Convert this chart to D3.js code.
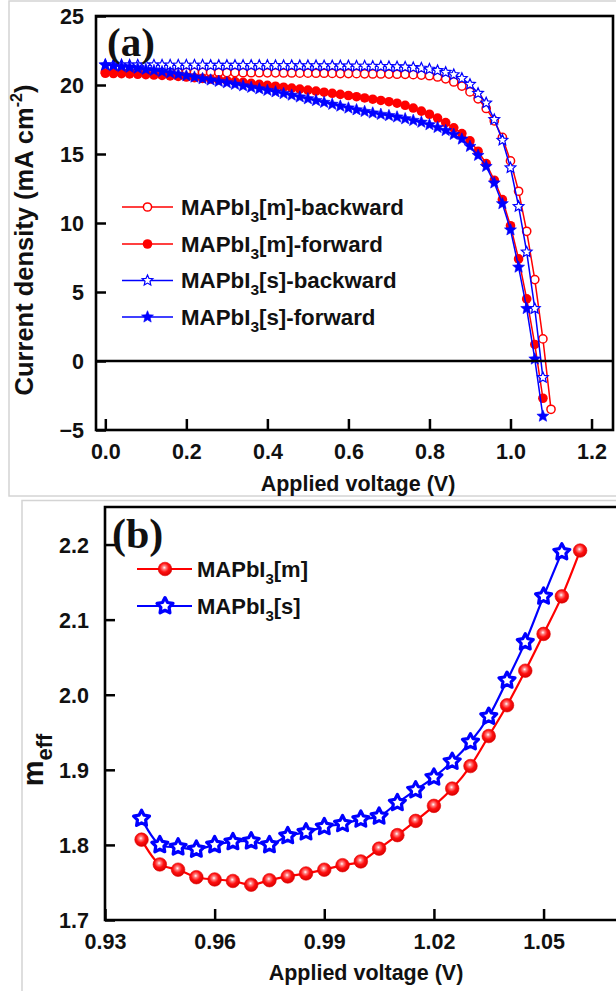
<!DOCTYPE html>
<html>
<head>
<meta charset="utf-8">
<script src="https://cdn.jsdelivr.net/npm/d3@7/dist/d3.min.js"></script>
<style>
  html, body { margin: 0; padding: 0; background: #fff; }
  svg { display: block; }
  text { font-family: "Liberation Sans", Arial, sans-serif; font-weight: bold; fill: #111; }
  .panel-tag { font-family: "Liberation Serif", "Times New Roman", serif; font-weight: bold; }
</style>
</head>
<body>
<svg id="fig" width="616" height="991"></svg>
<script>
// ---------- Panel (a): J–V scans ----------
const scanVoltage = [0.00,0.02,0.04,0.06,0.08,0.10,0.12,0.14,0.16,0.18,0.20,0.22,0.24,0.26,0.28,0.30,0.32,0.34,0.36,0.38,
  0.40,0.42,0.44,0.46,0.48,0.50,0.52,0.54,0.56,0.58,0.60,0.62,0.64,0.66,0.68,0.70,0.72,0.74,0.76,0.78,
  0.80,0.82,0.84,0.86,0.88,0.90,0.92,0.94,0.96,0.98,1.00,1.02,1.04,1.06,1.08,1.10];

const jMBackward = [20.95,20.95,20.94,20.94,20.94,20.93,20.93,20.93,20.92,20.92,20.92,20.91,20.91,20.91,20.90,20.90,20.90,20.89,20.89,20.89,
  20.88,20.88,20.87,20.87,20.86,20.86,20.85,20.85,20.84,20.83,20.83,20.82,20.81,20.80,20.80,20.79,20.78,20.77,20.75,20.72,
  20.67,20.58,20.45,20.22,19.92,19.50,19.00,18.30,17.40,16.20,14.50,12.30,9.40,5.90,1.60,-3.50];
const jMForward = [20.85,20.83,20.82,20.80,20.78,20.75,20.72,20.69,20.66,20.62,20.58,20.53,20.48,20.43,20.37,20.31,20.25,20.19,20.12,20.05,
  19.98,19.91,19.84,19.77,19.70,19.63,19.56,19.48,19.40,19.32,19.24,19.15,19.06,18.97,18.88,18.79,18.68,18.53,18.33,18.11,
  17.88,17.60,17.28,16.90,16.48,15.95,15.20,14.30,13.10,11.70,9.80,7.40,4.50,1.20,-2.70];
const jSBackward = [21.46,21.46,21.46,21.45,21.45,21.45,21.45,21.45,21.44,21.44,21.44,21.44,21.44,21.43,21.43,21.43,21.43,21.42,21.42,21.42,
  21.42,21.41,21.41,21.41,21.40,21.40,21.40,21.39,21.39,21.38,21.38,21.37,21.37,21.36,21.35,21.34,21.32,21.30,21.27,21.22,
  21.15,21.05,20.92,20.75,20.48,20.05,19.40,18.70,17.50,16.00,14.00,11.20,7.90,3.80,-1.20];
const jSForward = [21.45,21.40,21.34,21.28,21.21,21.13,21.05,20.97,20.88,20.78,20.67,20.57,20.46,20.36,20.26,20.16,20.05,19.94,19.83,19.72,
  19.61,19.50,19.38,19.26,19.13,19.00,18.87,18.74,18.60,18.47,18.33,18.20,18.08,17.97,17.87,17.78,17.68,17.55,17.43,17.30,
  17.12,16.92,16.70,16.42,16.08,15.55,14.90,14.10,12.90,11.40,9.50,6.80,3.80,0.14,-4.00];

const aXTicks = [0.0, 0.2, 0.4, 0.6, 0.8, 1.0, 1.2];
const aYTicks = [-5, 0, 5, 10, 15, 20, 25];
const aSeriesNames = ["MAPbI|3|[m]-backward", "MAPbI|3|[m]-forward", "MAPbI|3|[s]-backward", "MAPbI|3|[s]-forward"];

// ---------- Panel (b): effective ideality factor ----------
const meffVoltage = [0.940,0.945,0.950,0.955,0.960,0.965,0.970,0.975,0.980,0.985,0.990,0.995,1.000,
  1.005,1.010,1.015,1.020,1.025,1.030,1.035,1.040,1.045,1.050,1.055,1.060];
const meffM = [1.807,1.774,1.767,1.757,1.754,1.752,1.747,1.753,1.758,1.762,1.767,1.773,1.778,
  1.795,1.813,1.832,1.852,1.875,1.905,1.945,1.986,2.032,2.081,2.131,2.192];
const meffS = [1.835,1.800,1.797,1.794,1.800,1.804,1.805,1.800,1.812,1.817,1.824,1.828,1.834,
  1.838,1.856,1.873,1.890,1.911,1.937,1.971,2.019,2.070,2.131,2.190];

const bXTicks = [0.93, 0.96, 0.99, 1.02, 1.05];
const bYTicks = [1.7, 1.8, 1.9, 2.0, 2.1, 2.2];
const bSeriesNames = ["MAPbI|3|[m]", "MAPbI|3|[s]"];

const RED = "#ff0000", BLUE = "#0000ff";

const svg = d3.select("#fig");

// star outline path centred at the origin
function starPath(rOuter, rInner) {
  const pts = [];
  for (let i = 0; i < 10; i++) {
    const r = i % 2 === 0 ? rOuter : rInner;
    const a = -Math.PI / 2 + i * Math.PI / 5;
    pts.push([r * Math.cos(a), r * Math.sin(a)]);
  }
  return d3.line()(pts) + "Z";
}

// label text with a subscript part:  "pre|sub|post"
function subText(sel, label, size, subSize, shift) {
  const [pre, sub, post] = label.split("|");
  sel.append("tspan").text(pre);
  sel.append("tspan").attr("font-size", subSize).attr("dy", shift).text(sub);
  sel.append("tspan").attr("dy", -shift).text(post);
  sel.attr("font-size", size);
}

// sphere-like gradient for the circle markers in panel (b)
const defs = svg.append("defs");
const grad = defs.append("radialGradient").attr("id", "ball").attr("cx", "45%").attr("cy", "40%").attr("r", "60%");
grad.append("stop").attr("offset", "0%").attr("stop-color", "#ffffff");
grad.append("stop").attr("offset", "22%").attr("stop-color", "#ff8080");
grad.append("stop").attr("offset", "55%").attr("stop-color", "#ff1010");
grad.append("stop").attr("offset", "100%").attr("stop-color", "#d80000");

// light outlines of the two figure boxes
svg.append("rect").attr("x", 9).attr("y", 1).attr("width", 620).attr("height", 495)
  .attr("fill", "none").attr("stroke", "#d4d4d4").attr("stroke-width", 1.5);
svg.append("rect").attr("x", 22).attr("y", 500.5).attr("width", 620).attr("height", 520)
  .attr("fill", "none").attr("stroke", "#d4d4d4").attr("stroke-width", 1.5);

// ======================= Panel (a) =======================
{
  const x = d3.scaleLinear().domain([-0.023, 1.253]).range([96, 613]);
  const y = d3.scaleLinear().domain([-5, 25]).range([430, 16]);
  const g = svg.append("g");

  const series = [
    { j: jMBackward, color: RED,  kind: "circle", filled: false },
    { j: jMForward,  color: RED,  kind: "circle", filled: true },
    { j: jSBackward, color: BLUE, kind: "star",   filled: false },
    { j: jSForward,  color: BLUE, kind: "star",   filled: true }
  ];
  const clip = defs.append("clipPath").attr("id", "clipA");
  clip.append("rect").attr("x", x.range()[0]).attr("y", y.range()[1])
    .attr("width", x.range()[1] - x.range()[0]).attr("height", y.range()[0] - y.range()[1] + 6);

  const line = d3.line().x(d => x(d[0])).y(d => y(d[1]));
  function marker(sel, s) {
    if (s.kind === "circle") {
      sel.append("circle").attr("r", s.filled ? 4.8 : 4.1)
        .attr("fill", s.filled ? s.color : "#fff")
        .attr("stroke", s.color).attr("stroke-width", s.filled ? 0 : 1.5);
    } else {
      sel.append("path").attr("d", s.filled ? starPath(6.3, 2.8) : starPath(5.6, 2.6))
        .attr("fill", s.filled ? s.color : "#fff")
        .attr("stroke", s.color).attr("stroke-width", s.filled ? 0.6 : 1.2);
    }
  }

  const plot = g.append("g").attr("clip-path", "url(#clipA)");
  series.forEach(s => {
    const pts = s.j.map((v, i) => [scanVoltage[i], v]);
    plot.append("path").datum(pts).attr("d", line)
      .attr("fill", "none").attr("stroke", s.color).attr("stroke-width", 1.5);
    plot.selectAll(null).data(pts).enter().append("g")
      .attr("transform", d => `translate(${x(d[0])},${y(d[1])})`)
      .each(function () { marker(d3.select(this), s); });
  });

  // zero-current line
  g.append("line").attr("x1", x.range()[0]).attr("x2", x.range()[1])
    .attr("y1", y(0)).attr("y2", y(0)).attr("stroke", "#000").attr("stroke-width", 2.5);

  // axes with inward ticks
  const xAxis = d3.axisBottom(x).tickValues(aXTicks).tickFormat(d3.format(".1f"))
    .tickSizeInner(-11).tickSizeOuter(0).tickPadding(14);
  const yAxis = d3.axisLeft(y).tickValues(aYTicks).tickFormat(d3.format("d"))
    .tickSizeInner(-10).tickSizeOuter(0).tickPadding(12);
  const gx = g.append("g").attr("transform", `translate(0,${y.range()[0]})`).call(xAxis);
  const gy = g.append("g").attr("transform", `translate(${x.range()[0]},0)`).call(yAxis);
  [gx, gy].forEach(ax => {
    ax.select(".domain").remove();
    ax.selectAll(".tick line").attr("stroke", "#000").attr("stroke-width", 2.5);
    ax.selectAll(".tick text").attr("font-size", 21.5).attr("font-family", "Liberation Sans, Arial, sans-serif")
      .attr("font-weight", "bold").attr("fill", "#111");
  });
  gx.selectAll(".tick text").attr("dy", "0.71em");
  gy.selectAll(".tick text").attr("dy", "0.36em");

  // frame
  g.append("rect").attr("x", x.range()[0]).attr("y", y.range()[1])
    .attr("width", x.range()[1] - x.range()[0]).attr("height", y.range()[0] - y.range()[1])
    .attr("fill", "none").attr("stroke", "#000").attr("stroke-width", 2.6);

  g.append("text").attr("class", "panel-tag").attr("x", 107).attr("y", 56)
    .attr("font-size", 41).text("(a)");

  g.append("text").attr("x", 358).attr("y", 491).attr("text-anchor", "middle")
    .attr("font-size", 21.5).text("Applied voltage (V)");

  const yt = g.append("text").attr("transform", "translate(33,240) rotate(-90)")
    .attr("text-anchor", "middle").attr("font-size", 25.5);
  yt.append("tspan").text("Current density (mA cm");
  yt.append("tspan").attr("font-size", 16).attr("dy", -11).text("-2");
  yt.append("tspan").attr("dy", 11).text(")");

  // legend
  const legY = [207, 244, 280.5, 317];
  series.forEach((s, i) => {
    const row = g.append("g").attr("transform", `translate(0,${legY[i]})`);
    row.append("line").attr("x1", 122).attr("x2", 173).attr("stroke", s.color).attr("stroke-width", 1.5);
    const m = row.append("g").attr("transform", "translate(147.5,0)");
    marker(m, s);
    const t = row.append("text").attr("x", 181).attr("y", 7.5);
    subText(t, aSeriesNames[i], 22.3, 15.5, 7);
  });
}

// ======================= Panel (b) =======================
{
  const x = d3.scaleLinear().domain([0.93, 1.069]).range([105, 613]);
  const y = d3.scaleLinear().domain([1.7, 2.25]).range([920, 507]);
  const g = svg.append("g");
  const right = 640;

  const line = d3.line().x(d => x(d[0])).y(d => y(d[1])).curve(d3.curveCatmullRom.alpha(0.5));

  const ptsM = meffM.map((v, i) => [meffVoltage[i], v]);
  const ptsS = meffS.map((v, i) => [meffVoltage[i], v]);

  function ball(sel, r) {
    sel.append("circle").attr("r", r).attr("fill", "url(#ball)").attr("stroke", "#e00000").attr("stroke-width", 0.6);
  }
  function star(sel) {
    sel.append("path").attr("d", starPath(8.4, 4.3)).attr("fill", "#fff")
      .attr("stroke", BLUE).attr("stroke-width", 3.2).attr("stroke-linejoin", "round");
  }

  g.append("path").datum(ptsM).attr("d", line).attr("fill", "none").attr("stroke", RED).attr("stroke-width", 2.2);
  g.selectAll(null).data(ptsM).enter().append("g")
    .attr("transform", d => `translate(${x(d[0])},${y(d[1])})`).each(function () { ball(d3.select(this), 6.8); });

  g.append("path").datum(ptsS).attr("d", line).attr("fill", "none").attr("stroke", BLUE).attr("stroke-width", 2.2);
  g.selectAll(null).data(ptsS).enter().append("g")
    .attr("transform", d => `translate(${x(d[0])},${y(d[1])})`).each(function () { star(d3.select(this)); });

  const xAxis = d3.axisBottom(x).tickValues(bXTicks).tickFormat(d3.format(".2f"))
    .tickSizeInner(-11).tickSizeOuter(0).tickPadding(14);
  const yAxis = d3.axisLeft(y).tickValues(bYTicks).tickFormat(d3.format(".1f"))
    .tickSizeInner(-10).tickSizeOuter(0).tickPadding(16);
  const gx = g.append("g").attr("transform", `translate(0,${y.range()[0]})`).call(xAxis);
  const gy = g.append("g").attr("transform", `translate(${x.range()[0]},0)`).call(yAxis);
  [gx, gy].forEach(ax => {
    ax.select(".domain").remove();
    ax.selectAll(".tick line").attr("stroke", "#000").attr("stroke-width", 2.5);
    ax.selectAll(".tick text").attr("font-size", 21.5).attr("font-family", "Liberation Sans, Arial, sans-serif")
      .attr("font-weight", "bold").attr("fill", "#111");
  });
  gx.selectAll(".tick text").attr("dy", "0.71em");
  gy.selectAll(".tick text").attr("dy", "0.36em");

  // open frame: left, top and bottom edges run past the right border of the figure
  g.append("path")
    .attr("d", `M${right},${y.range()[1]}H${x.range()[0]}V${y.range()[0]}H${right}`)
    .attr("fill", "none").attr("stroke", "#000").attr("stroke-width", 2.6);

  g.append("text").attr("class", "panel-tag").attr("x", 112).attr("y", 548)
    .attr("font-size", 42).text("(b)");

  g.append("text").attr("x", 366).attr("y", 980).attr("text-anchor", "middle")
    .attr("font-size", 21.5).text("Applied voltage (V)");

  const yt = g.append("text").attr("transform", "translate(43,760) rotate(-90)")
    .attr("text-anchor", "middle").attr("font-size", 29);
  yt.append("tspan").text("m");
  yt.append("tspan").attr("font-size", 22).attr("dy", 9).text("eff");

  // legend
  const legY = [569, 606];
  [0, 1].forEach(i => {
    const row = g.append("g").attr("transform", `translate(0,${legY[i]})`);
    row.append("line").attr("x1", 137).attr("x2", 192).attr("stroke", i ? BLUE : RED).attr("stroke-width", 2.2);
    const m = row.append("g").attr("transform", "translate(165,0)");
    if (i) star(m); else ball(m, 6.8);
    const t = row.append("text").attr("x", 197).attr("y", 8);
    subText(t, bSeriesNames[i], 22, 15, 7);
  });
}
</script>
</body>
</html>
